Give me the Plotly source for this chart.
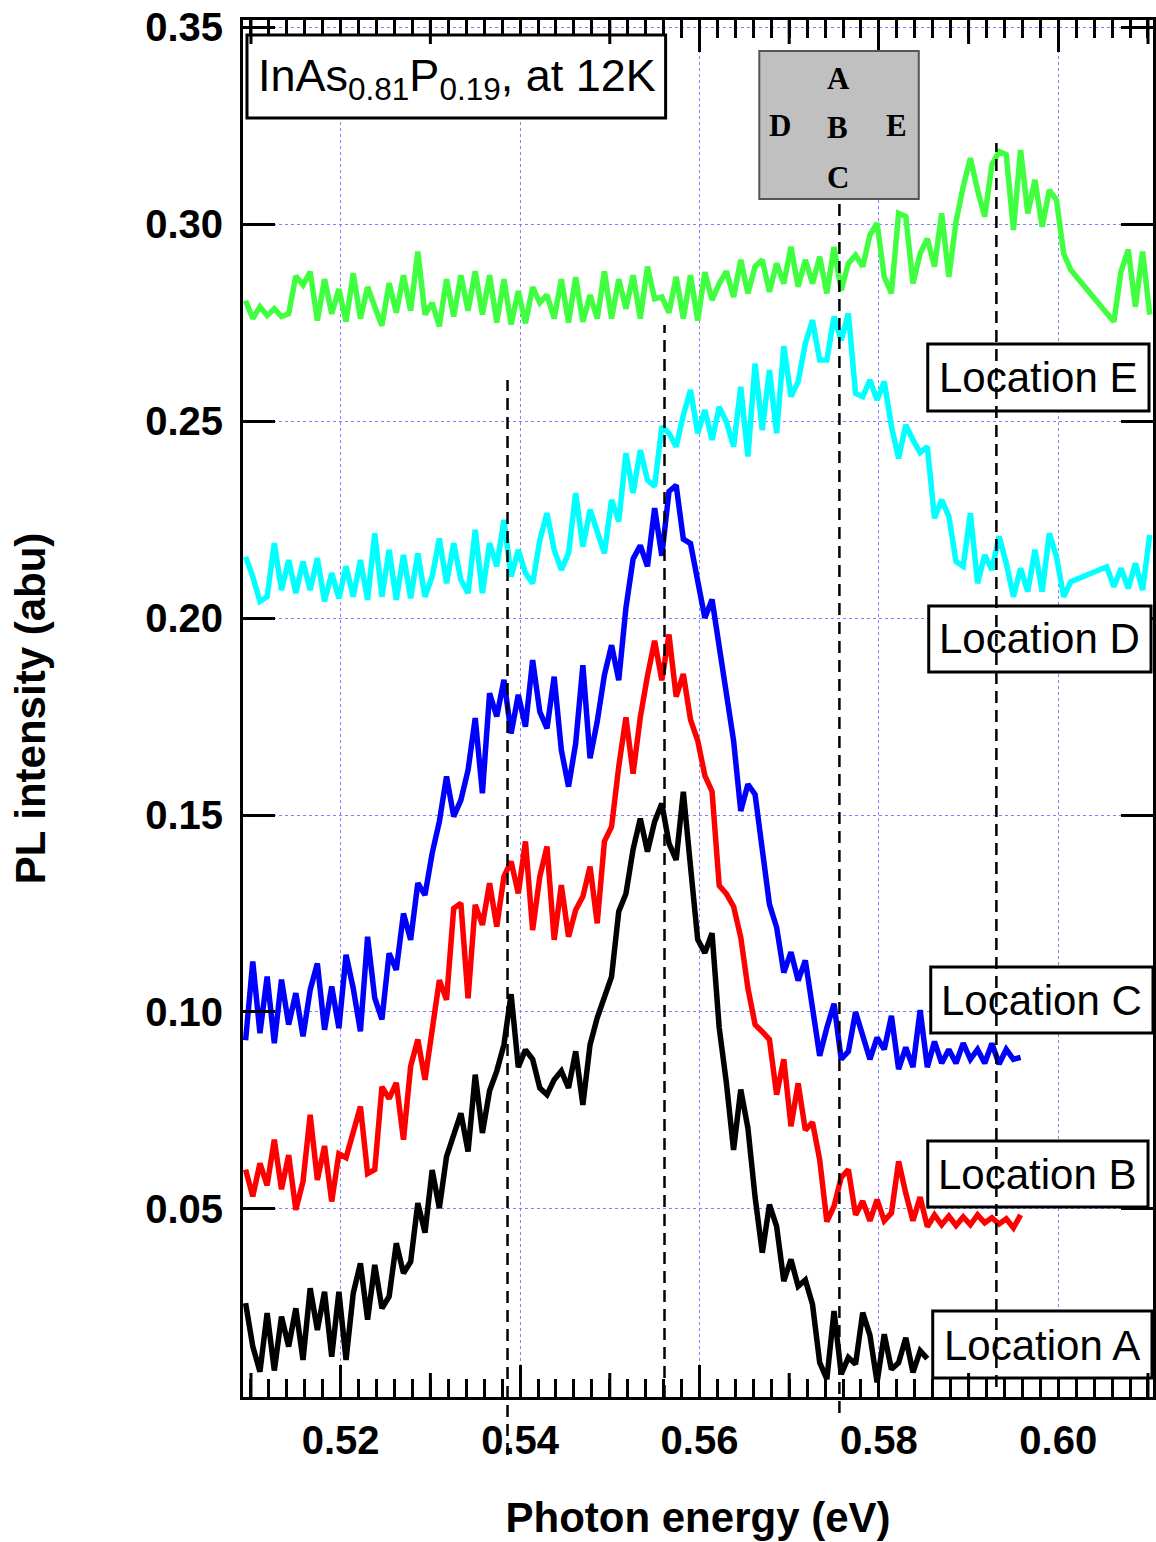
import plotly.graph_objects as go

# ---------------- data ----------------
energy = [
    0.5094, 0.5102, 0.5110, 0.5118, 0.5126, 0.5134, 0.5142, 0.5150, 0.5158, 0.5166,
    0.5174, 0.5182, 0.5190, 0.5198, 0.5206, 0.5214, 0.5222, 0.5230, 0.5238, 0.5246,
    0.5254, 0.5262, 0.5270, 0.5278, 0.5286, 0.5294, 0.5302, 0.5310, 0.5318, 0.5326,
    0.5334, 0.5342, 0.5350, 0.5358, 0.5366, 0.5374, 0.5382, 0.5390, 0.5398, 0.5406,
    0.5414, 0.5422, 0.5430, 0.5438, 0.5446, 0.5454, 0.5462, 0.5470, 0.5478, 0.5486,
    0.5494, 0.5502, 0.5510, 0.5518, 0.5526, 0.5534, 0.5542, 0.5550, 0.5558, 0.5566,
    0.5574, 0.5582, 0.5590, 0.5598, 0.5606, 0.5614, 0.5622, 0.5630, 0.5638, 0.5646,
    0.5654, 0.5662, 0.5670, 0.5678, 0.5686, 0.5694, 0.5702, 0.5710, 0.5718, 0.5726,
    0.5734, 0.5742, 0.5750, 0.5758, 0.5766, 0.5774, 0.5782, 0.5790, 0.5798, 0.5806,
    0.5814, 0.5822, 0.5830, 0.5838, 0.5846, 0.5854, 0.5862, 0.5870, 0.5878, 0.5886,
    0.5894, 0.5902, 0.5910, 0.5918, 0.5926, 0.5934, 0.5942, 0.5950, 0.5958, 0.5966,
    0.5974, 0.5982, 0.5990, 0.5998, 0.6006, 0.6014,
]
energy_tail_D = [0.6054, 0.6062, 0.6070, 0.6078, 0.6086, 0.6094, 0.6102]
energy_tail_E = [0.6062, 0.6070, 0.6078, 0.6086, 0.6094, 0.6102]

loc_A = [  # black
    0.0261, 0.0151, 0.0087, 0.0236, 0.0090, 0.0227, 0.0151, 0.0248, 0.0117, 0.0299,
    0.0193, 0.0290, 0.0125, 0.0290, 0.0117, 0.0286, 0.0362, 0.0219, 0.0358, 0.0248,
    0.0278, 0.0413, 0.0337, 0.0366, 0.0515, 0.0440, 0.0599, 0.0502, 0.0633, 0.0690,
    0.0743, 0.0646, 0.0841, 0.0693, 0.0800, 0.0850, 0.0917, 0.1045, 0.0860, 0.0904,
    0.0880, 0.0807, 0.0790, 0.0828, 0.0850, 0.0807, 0.0900, 0.0764, 0.0917, 0.0985,
    0.1040, 0.1090, 0.1255, 0.1300, 0.1413, 0.1491, 0.1407, 0.1483, 0.1529, 0.1428,
    0.1386, 0.1559, 0.1369, 0.1184, 0.1150, 0.1200, 0.0960, 0.0820, 0.0650, 0.0803,
    0.0705, 0.0530, 0.0389, 0.0511, 0.0456, 0.0317, 0.0372, 0.0304, 0.0320, 0.0258,
    0.0110, 0.0068, 0.0241, 0.0081, 0.0123, 0.0106, 0.0237, 0.0180, 0.0060, 0.0182,
    0.0093, 0.0110, 0.0173, 0.0085, 0.0140, 0.0120,
]
loc_B = [  # red
    0.0600, 0.0532, 0.0616, 0.0560, 0.0676, 0.0550, 0.0637, 0.0498, 0.0570, 0.0739,
    0.0574, 0.0660, 0.0519, 0.0640, 0.0630, 0.0690, 0.0760, 0.0590, 0.0600, 0.0810,
    0.0780, 0.0820, 0.0676, 0.0862, 0.0930, 0.0828, 0.0950, 0.1081, 0.1031, 0.1263,
    0.1276, 0.1035, 0.1272,
    0.1221, 0.1327, 0.1217, 0.1344, 0.1382, 0.1301, 0.1433, 0.1208, 0.1344, 0.1420,
    0.1183, 0.1322, 0.1191, 0.1259, 0.1293, 0.1369, 0.1225, 0.1433, 0.1470, 0.1623,
    0.1748, 0.1605, 0.1748, 0.1853, 0.1942, 0.1842, 0.1958, 0.1800, 0.1858, 0.1742,
    0.1689,
    0.1600, 0.1560, 0.1321, 0.1300, 0.1268, 0.1190, 0.1060, 0.0968, 0.0950, 0.0930,
    0.0790,
    0.0880, 0.0710, 0.0819, 0.0700, 0.0720, 0.0625, 0.0468, 0.0507, 0.0580, 0.0600,
    0.0485, 0.0520, 0.0470, 0.0524, 0.0470, 0.0490, 0.0621, 0.0540, 0.0470, 0.0530,
    0.0455,
    0.0485, 0.0460, 0.0482, 0.0458, 0.0480, 0.0460, 0.0485, 0.0465, 0.0478, 0.0462,
    0.0475, 0.0452, 0.0485,
]
loc_C = [  # blue
    0.0928, 0.1128, 0.0946, 0.1090, 0.0921, 0.1082, 0.0968, 0.1048, 0.0938, 0.1056,
    0.1123, 0.0955, 0.1065, 0.0959, 0.1145, 0.1060, 0.0951, 0.1191, 0.1035, 0.0981,
    0.1149, 0.1107, 0.1250, 0.1183, 0.1327, 0.1297, 0.1403, 0.1483,
    0.1598, 0.1496, 0.1538, 0.1614, 0.1746, 0.1555, 0.1809, 0.1750, 0.1843, 0.1707,
    0.1805, 0.1724, 0.1893, 0.1762, 0.1720, 0.1851, 0.1665, 0.1572, 0.1682, 0.1880,
    0.1644, 0.1737, 0.1855, 0.1931, 0.1842, 0.2026, 0.2150, 0.2184, 0.2131, 0.2279,
    0.2158, 0.2321, 0.2337, 0.2200, 0.2189, 0.2100, 0.2000, 0.2047, 0.1921, 0.1794,
    0.1689, 0.1510, 0.1578, 0.1552, 0.1400, 0.1273, 0.1215, 0.1100, 0.1152, 0.1080,
    0.1131, 0.1010, 0.0889, 0.0960, 0.1021, 0.0880, 0.0900, 0.1000, 0.0937, 0.0880,
    0.0935, 0.0905, 0.0990, 0.0855, 0.0910, 0.0860, 0.1005, 0.0860, 0.0925, 0.0870,
    0.0905, 0.0870, 0.0921, 0.0880, 0.0905, 0.0870, 0.0920, 0.0868, 0.0905, 0.0880,
    0.0885,
]
loc_D = [  # cyan
    0.2155, 0.2105, 0.2042, 0.2054, 0.2190, 0.2071, 0.2147, 0.2063, 0.2143, 0.2071,
    0.2152, 0.2042, 0.2114, 0.2050, 0.2131, 0.2054, 0.2147, 0.2046, 0.2215, 0.2054,
    0.2173, 0.2046, 0.2160, 0.2050, 0.2164, 0.2054, 0.2105, 0.2202, 0.2088, 0.2190,
    0.2097, 0.2063, 0.2224, 0.2063, 0.2190, 0.2131, 0.2249, 0.2105, 0.2173, 0.2114,
    0.2088, 0.2198, 0.2266, 0.2173, 0.2122, 0.2164, 0.2317, 0.2181, 0.2275, 0.2224,
    0.2164, 0.2300, 0.2245, 0.2418, 0.2317, 0.2426, 0.2350, 0.2334, 0.2486, 0.2469,
    0.2435, 0.2515, 0.2579, 0.2469,
    0.2528, 0.2452, 0.2536, 0.2498, 0.2435, 0.2587, 0.2410, 0.2646, 0.2477, 0.2629,
    0.2469, 0.2690, 0.2562, 0.2600, 0.2697, 0.2756, 0.2655, 0.2655, 0.2765, 0.2705,
    0.2773, 0.2570, 0.2562, 0.2604, 0.2553, 0.2600, 0.2486, 0.2405, 0.2490, 0.2452,
    0.2420, 0.2435, 0.2253, 0.2300, 0.2258, 0.2143, 0.2131, 0.2266, 0.2088, 0.2160,
    0.2122, 0.2207, 0.2139, 0.2054, 0.2126, 0.2067, 0.2173, 0.2067, 0.2215, 0.2156,
    0.2054, 0.2092,
    0.2130, 0.2079, 0.2126, 0.2075, 0.2139, 0.2071, 0.2211,
]
loc_E = [  # green
    0.2805, 0.2760, 0.2790, 0.2768, 0.2785, 0.2765, 0.2772, 0.2868, 0.2845, 0.2879,
    0.2755, 0.2860, 0.2772, 0.2835, 0.2752, 0.2875, 0.2760, 0.2840, 0.2790, 0.2742,
    0.2850, 0.2775, 0.2870, 0.2780, 0.2930, 0.2770, 0.2800, 0.2740, 0.2860, 0.2765,
    0.2870, 0.2780, 0.2880, 0.2770, 0.2870, 0.2750, 0.2860, 0.2745, 0.2830, 0.2748,
    0.2840, 0.2800, 0.2820, 0.2760, 0.2860, 0.2750, 0.2865, 0.2752, 0.2820, 0.2760,
    0.2880, 0.2760, 0.2860, 0.2785, 0.2870, 0.2760, 0.2892, 0.2810, 0.2815, 0.2775,
    0.2866, 0.2760, 0.2870, 0.2755,
    0.2878, 0.2807, 0.2849, 0.2880, 0.2815, 0.2909, 0.2824, 0.2892, 0.2909, 0.2828,
    0.2900, 0.2849, 0.2942, 0.2841, 0.2909, 0.2849, 0.2917, 0.2824, 0.2942, 0.2832,
    0.2900, 0.2921, 0.2892, 0.2972, 0.3002, 0.2866, 0.2824, 0.3027, 0.3019, 0.2849,
    0.2925, 0.2963, 0.2892, 0.3027, 0.2866, 0.3006, 0.3095, 0.3167, 0.3086, 0.3019,
    0.3150, 0.3184, 0.3176, 0.2985, 0.3188, 0.3027, 0.3112, 0.2993, 0.3086, 0.3061,
    0.2925, 0.2883,
    0.2752, 0.2880, 0.2935, 0.2790, 0.2930, 0.2770,
]

series_names = ["Location A", "Location B", "Location C", "Location D", "Location E"]
series_colors = ["#000000", "#ff0000", "#0000ff", "#00ffff", "#40ff40"]
peak_energies = [0.5386, 0.5561, 0.5756, 0.5931]
x_ticks = [0.52, 0.54, 0.56, 0.58, 0.60]
y_ticks = [0.05, 0.10, 0.15, 0.20, 0.25, 0.30, 0.35]
mid_ticks = [0.51, 0.53, 0.55, 0.57, 0.59, 0.61]

# ---------------- layout geometry (page body margin removed below) ----------------
W, H = 1156, 1542
ML, MR, MT, MB = 243, 0, 20, 145
PW, PH = W - ML - MR, H - MT - MB


def fx(px):  # screen pixel -> paper x
    return (px - ML) / PW


def fy(py):  # screen pixel -> paper y
    return 1 - (py - MT) / PH


SANS = "Arial, Liberation Sans, Helvetica, sans-serif"
SERIF = "Times New Roman, Liberation Serif, serif"

fig = go.Figure()

xs = [
    energy[:len(loc_A)],
    energy[:len(loc_B)],
    energy[:len(loc_C)],
    energy + energy_tail_D,
    energy + energy_tail_E,
]
ys = [loc_A, loc_B, loc_C, loc_D, loc_E]
for x, y, name, col in zip(xs, ys, series_names, series_colors):
    fig.add_trace(go.Scatter(x=x, y=y, mode="lines", name=name,
                             line=dict(color=col, width=5.5), showlegend=False))

shapes = []
boxes = [  # label boxes (screen px: x0, y0, x1, y1)
    (930, 344, 1152, 411),
    (931, 606, 1154, 672),
    (933, 967, 1156, 1033),
    (930, 1141, 1151, 1207),
    (935, 1311, 1155, 1378),
]
box_labels = ["Location E", "Location D", "Location C", "Location B", "Location A"]
for (x0, y0, x1, y1) in boxes:
    shapes.append(dict(type="rect", xref="paper", yref="paper",
                       x0=fx(x0), x1=fx(x1), y0=fy(y1), y1=fy(y0),
                       fillcolor="white", line=dict(color="black", width=3), layer="above"))
shapes.append(dict(type="rect", xref="paper", yref="paper",
                   x0=fx(247), x1=fx(667), y0=fy(118), y1=fy(35),
                   fillcolor="white", line=dict(color="black", width=3), layer="above"))
shapes.append(dict(type="rect", xref="paper", yref="paper",
                   x0=fx(761), x1=fx(921), y0=fy(199), y1=fy(51),
                   fillcolor="#c0c0c0", line=dict(color="#555555", width=2), layer="above"))
line_spans = [(380, 1455), (325, 1397), (199, 1413), (143, 1387)]
for e, (pt, pb) in zip(peak_energies, line_spans):
    shapes.append(dict(type="line", xref="x", yref="paper", x0=e, x1=e,
                       y0=fy(pb), y1=fy(pt),
                       line=dict(color="black", width=2.5, dash="12px,7px"), layer="above"))
for t in mid_ticks:
    shapes.append(dict(type="line", xref="x", yref="paper", x0=t, x1=t,
                       y0=0, y1=24 / PH, line=dict(color="black", width=3)))
    shapes.append(dict(type="line", xref="x", yref="paper", x0=t, x1=t,
                       y0=1, y1=1 - 24 / PH, line=dict(color="black", width=3)))

annotations = []
label_centers = [(1041, 378), (1042, 639), (1044, 1000), (1040, 1174), (1045, 1345)]
for txt, (cx, cy) in zip(box_labels, label_centers):
    annotations.append(dict(text=txt, xref="paper", yref="paper", x=fx(cx), y=fy(cy),
                            xanchor="center", yanchor="middle", showarrow=False,
                            font=dict(family=SANS, size=42, color="black")))
annotations.append(dict(text="InAs<sub>0.81</sub>P<sub>0.19</sub>, at 12K",
                        xref="paper", yref="paper", x=fx(458), y=fy(78),
                        xanchor="center", yanchor="middle", showarrow=False,
                        font=dict(family=SANS, size=45, color="black")))
for letter, (cx, cy) in zip(["A", "D", "B", "E", "C"],
                            [(840, 78), (782, 125), (839, 127), (899, 125), (840, 178)]):
    annotations.append(dict(text=letter, xref="paper", yref="paper", x=fx(cx), y=fy(cy),
                            xanchor="center", yanchor="middle", showarrow=False,
                            font=dict(family=SERIF, size=31, color="black", weight="bold")))

grid_col = "#8080ff"
fig.update_layout(
    width=W, height=H,
    margin=dict(l=ML, r=MR, t=MT, b=MB, pad=0),
    paper_bgcolor="white", plot_bgcolor="white",
    shapes=shapes, annotations=annotations,
    xaxis=dict(
        range=[0.50911, 0.61056], tickvals=x_ticks, ticktext=[f"{v:.2f}" for v in x_ticks],
        ticks="inside", ticklen=32, tickwidth=3, tickcolor="black",
        showline=True, linewidth=3, linecolor="black", mirror="ticks",
        showgrid=True, gridcolor=grid_col, gridwidth=1, griddash="dot",
        zeroline=False, ticklabelstandoff=6, ticklabeloverflow="allow",
        tickfont=dict(family=SANS, size=40, color="black", weight="bold"),
        minor=dict(ticks="inside", ticklen=18, tickwidth=3, tickcolor="black",
                   dtick=0.002, tick0=0.5, showgrid=False),
        title=dict(text="Photon energy (eV)", standoff=42,
                   font=dict(family=SANS, size=42, color="black", weight="bold")),
    ),
    yaxis=dict(
        range=[0.00228, 0.35178], tickvals=y_ticks, ticktext=[f"{v:.2f}" for v in y_ticks],
        ticks="inside", ticklen=32, tickwidth=3, tickcolor="black",
        showline=True, linewidth=3, linecolor="black", mirror="ticks",
        showgrid=True, gridcolor=grid_col, gridwidth=1, griddash="dot",
        zeroline=False, ticklabelstandoff=9, ticklabeloverflow="allow",
        tickfont=dict(family=SANS, size=40, color="black", weight="bold"),
        title=dict(text="PL intensity (abu)", standoff=87,
                   font=dict(family=SANS, size=42, color="black", weight="bold")),
    ),
)

fig.write_html(
    "out.html",
    config={"displayModeBar": False},
    post_script=("document.body.style.margin='0';"
                 "document.body.style.overflow='hidden';"
                 "document.documentElement.style.overflow='hidden';"),
)
